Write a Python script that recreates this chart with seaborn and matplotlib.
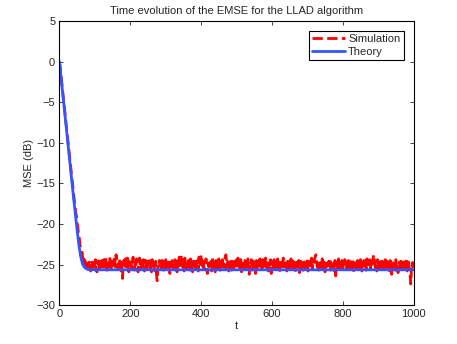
import numpy as np
import pandas as pd
import matplotlib
matplotlib.use("Agg")
import matplotlib.pyplot as plt
import seaborn as sns

# theory curve (read at key points)
theory_t = [0, 10, 20, 30, 40, 50, 55, 60, 65, 70, 75, 80, 100, 1000]
theory_mse = [0, -4.2, -8.4, -12.6, -16.8, -20.8, -22.6, -24.0, -24.9, -25.3, -25.5, -25.6, -25.65, -25.65]

# simulation, sampled every 2 iterations
sim_t = list(range(0, 1001, 2))
sim_mse = [
    # transient, t = 0..80
    0.0, -0.6, -1.5, -2.3, -3.1, -4.0, -4.9, -5.6, -6.5, -7.3,
    -8.1, -9.0, -9.8, -10.6, -11.3, -12.2, -13.0, -13.9, -14.6, -15.4,
    -16.2, -17.1, -17.6, -18.6, -19.0, -19.9, -20.4, -21.3, -21.7, -22.6,
    -22.9, -23.7, -23.5, -24.4, -24.1, -24.9, -24.5, -25.3, -24.8, -25.5,
    -25.0,
    # steady state, t = 82..1000
    -25.4, -24.7, -25.2, -25.8, -24.9, -24.5, -25.3, -25.6, -24.8, -25.1, -24.4, -25.7, -25.9, -24.6, -25.0, -24.3, -25.5, -24.9, -25.2, -24.5,
    -25.6, -24.8, -24.4, -25.3, -25.0, -24.2, -25.7, -24.9, -25.4, -24.6, -24.1, -25.2, -25.8, -24.7, -24.3, -25.1, -24.5, -24.0, -25.3, -23.8,
    -24.6, -25.4, -24.9, -25.7, -24.4, -25.1, -25.8, -24.7, -26.7, -25.2, -24.5, -25.0, -24.3, -25.6, -24.8, -24.2, -25.3, -25.9, -24.6, -25.1,
    -24.4, -25.5, -24.8, -24.1, -25.2, -25.7, -24.6, -25.0, -24.3, -25.4, -25.9, -24.7, -24.2, -25.1, -25.6, -24.5, -24.9, -25.3, -24.4, -25.8,
    -24.9, -24.5, -25.2, -25.7, -24.6, -25.0, -24.3, -25.5, -24.8, -25.9, -24.4, -25.1, -24.7, -25.4, -25.8, -24.6, -26.2, -27.0, -25.3, -24.8,
    -24.5, -25.2, -24.9, -25.6, -24.3, -25.0, -25.7, -24.6, -25.3, -24.4, -25.8, -24.9, -25.1, -24.5, -25.5, -26.1, -24.7, -25.0, -24.3, -25.4,
    -24.8, -25.6, -24.4, -25.1, -24.7, -25.9, -24.5, -25.2, -24.1, -24.9, -25.5, -23.8, -24.4, -25.3, -24.7, -25.8, -24.2, -25.0, -25.6, -24.6,
    -25.3, -24.5, -25.0, -25.7, -24.3, -25.4, -24.8, -25.9, -24.6, -25.1, -24.4, -25.6, -24.9, -25.2, -24.5, -25.8, -24.1, -24.7, -25.3, -23.8,
    -24.6, -25.2, -24.4, -25.5, -24.9, -25.0, -24.3, -25.7, -26.1, -24.8, -25.3, -24.5, -25.1, -24.6, -25.8, -24.2, -25.0, -25.4, -24.7, -25.9,
    -24.5, -25.2, -24.8, -25.6, -24.3, -25.0, -25.7, -24.6, -25.3, -24.4, -25.1, -24.9, -25.5, -24.1, -23.8, -24.7, -25.4, -24.3, -25.8, -24.9,
    -25.2, -24.6, -25.7, -24.4, -25.0, -25.9, -24.7, -25.3, -24.5, -25.1, -25.6, -24.2, -25.0, -24.8, -25.5, -24.4, -25.9, -24.6, -25.2, -24.9,
    -25.4, -24.5, -25.8, -24.7, -25.1, -24.3, -25.6, -26.2, -24.8, -25.0, -24.4, -25.7, -25.2, -24.6, -25.5, -24.9, -26.1, -24.5, -25.3, -25.8,
    -24.6, -25.1, -24.3, -25.5, -24.8, -25.9, -24.4, -25.2, -24.7, -25.6, -24.2, -25.0, -25.4, -24.5, -25.8, -24.9, -25.1, -24.4, -26.1, -25.3,
    -24.7, -25.5, -24.4, -25.0, -25.7, -24.6, -25.2, -24.3, -25.4, -24.8, -25.9, -24.5, -25.1, -24.7, -25.6, -24.2, -25.3, -24.9, -25.0, -24.4,
    -25.8, -24.6, -25.2, -24.5, -25.5, -24.9, -24.3, -25.7, -25.0, -24.6, -25.4, -24.8, -25.9, -24.4, -25.1, -24.7, -25.6, -24.5, -26.0, -25.2,
    -24.6, -25.3, -24.9, -25.7, -24.4, -25.0, -25.5, -24.7, -25.2, -24.3, -25.8, -24.6, -25.1, -24.9, -25.4, -24.2, -25.6, -24.8, -25.0, -24.4,
    -24.1, -23.8, -24.6, -25.3, -24.9, -25.7, -24.5, -25.1, -24.8, -25.6, -24.3, -25.0, -25.4, -24.7, -25.9, -24.5, -25.2, -24.9, -25.5, -24.6,
    -25.1, -24.4, -25.7, -24.8, -25.3, -24.6, -25.0, -25.8, -24.5, -26.4, -25.2, -24.7, -25.5, -24.3, -25.0, -25.6, -24.8, -25.2, -24.5, -25.9,
    -24.7, -25.3, -24.4, -25.0, -25.6, -24.8, -25.2, -24.5, -25.8, -24.6, -25.1, -24.9, -25.5, -24.3, -26.1, -25.0, -24.6, -25.4, -24.8, -25.7,
    -24.5, -25.2, -24.9, -25.6, -24.4, -25.0, -25.8, -24.7, -25.3, -24.5, -25.1, -24.8, -25.7, -24.3, -25.4, -24.9, -25.0, -24.4, -25.6, -24.7,
    -25.2, -24.5, -24.1, -23.8, -24.6, -25.4, -24.9, -25.8, -24.4, -25.1, -24.7, -25.5, -24.3, -25.0, -25.9, -24.6, -25.2, -24.8, -25.5, -24.4,
    -25.0, -25.7, -24.6, -25.3, -24.9, -25.8, -24.5, -25.1, -26.2, -24.8, -25.4, -24.6, -25.0, -25.7, -24.4, -25.3, -24.9, -26.0, -25.2, -24.7,
    -25.5, -24.6, -25.9, -24.8, -25.2, -24.5, -25.6, -24.9, -25.3, -24.4, -25.8, -25.0, -24.7, -25.6, -26.3, -27.4, -25.5, -24.8, -25.3, -24.6,
]

sns.set_style("ticks")
plt.rcParams['font.family'] = ['Liberation Sans', 'DejaVu Sans']

fig = plt.figure(figsize=(4.57, 3.44), dpi=100)
ax = fig.add_axes([0.13, 0.113, 0.775, 0.826])

sns.lineplot(x=sim_t, y=sim_mse, ax=ax, color='#ff0000', linestyle='--',
             linewidth=2, label='Simulation')
sns.lineplot(x=theory_t, y=theory_mse, ax=ax, color='#3355ff', linewidth=2,
             label='Theory')

ax.set_xlim(0, 1000)
ax.set_ylim(-30, 5)
ax.set_xticks(range(0, 1001, 200))
ax.set_yticks(range(-30, 6, 5))
ax.tick_params(direction='in', top=True, right=True, labelsize=8, length=3,
               width=0.6, pad=3)
for s in ax.spines.values():
    s.set_visible(True)
    s.set_linewidth(0.8)
    s.set_color('black')

ax.set_xlabel('t', fontsize=8, labelpad=1)
ax.set_ylabel('MSE (dB)', fontsize=8, labelpad=2)
ax.set_title('Time evolution of the EMSE for the LLAD algorithm', fontsize=8, pad=5)

leg = ax.legend(loc='upper right', fontsize=8, frameon=True, fancybox=False,
                edgecolor='black', framealpha=1, handlelength=2.9,
                borderpad=0.3, labelspacing=0.2, handletextpad=0.3,
                borderaxespad=0.9)
leg.get_frame().set_linewidth(0.8)

fig.savefig('out.png', dpi=100)
